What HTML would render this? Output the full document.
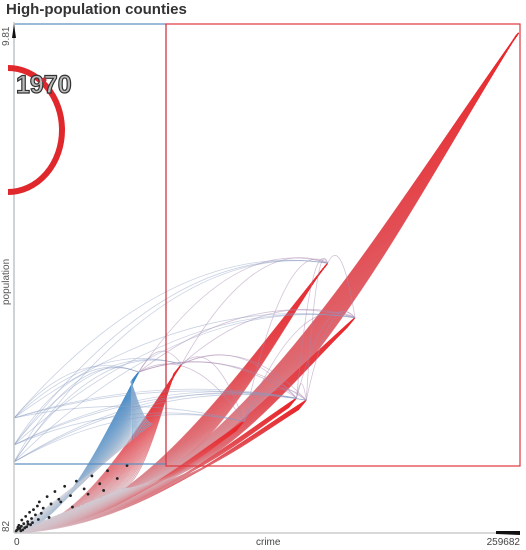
<!DOCTYPE html>
<html><head><meta charset="utf-8">
<style>
html,body{margin:0;padding:0;background:#fff;}
svg{display:block;font-family:"Liberation Sans",sans-serif;}
</style></head>
<body>
<svg id="chart" width="526" height="550" viewBox="0 0 526 550">
  <defs>
    <linearGradient id="gRed" x1="0" y1="1" x2="1" y2="0">
      <stop offset="0" stop-color="#d2ccd4"/>
      <stop offset="0.4" stop-color="#de6a72"/>
      <stop offset="1" stop-color="#e8262a"/>
    </linearGradient>
    <linearGradient id="gBlue" x1="0" y1="1" x2="1" y2="0">
      <stop offset="0" stop-color="#c4cad6"/>
      <stop offset="1" stop-color="#3a86c8"/>
    </linearGradient>
  </defs>
  <text x="6" y="14" font-size="15" font-weight="bold" fill="#333">High-population counties</text>
  <g id="marks"></g>
  <rect x="14" y="24" width="152" height="440" fill="none" stroke="#5b8cc0" stroke-width="1.2"/>
  <rect x="166" y="24" width="354" height="442" fill="none" stroke="#e0353c" stroke-width="1.2"/>
  <line x1="14" y1="22" x2="14" y2="533" stroke="#ccc" stroke-width="1.5"/>
  <line x1="14" y1="533" x2="520" y2="533" stroke="#ccc" stroke-width="1.5"/>
  <polygon points="12,38 16,38 14,24" fill="#111"/>
  <polygon points="496,531 520,531 520,535 496,534" fill="#111"/>
  <text transform="translate(9,46) rotate(-90)" font-size="10" fill="#555">9.81</text>
  <text transform="translate(9,305) rotate(-90)" font-size="10" fill="#555">population</text>
  <text transform="translate(9,532) rotate(-90)" font-size="10" fill="#555">82</text>
  <text x="14" y="545" font-size="10" fill="#444">0</text>
  <text x="256" y="545" font-size="10" fill="#444">crime</text>
  <text x="520" y="545" font-size="10" fill="#444" text-anchor="end">259682</text>
  <path d="M 8 68 A 54 62 0 1 1 8 192" fill="none" stroke="#e0282c" stroke-width="6"/>
  <text x="16" y="93" font-size="25" font-weight="bold" fill="#bbb" stroke="#333" stroke-width="1.2">1970</text>
  <circle cx="44" cy="80" r="2.5" fill="#c0303a"/>
</svg>
<script>
// Trajectory endpoints (data units)
const endCrime = [259000, 161000, 175000, 150000, 86000, 64000, 145000, 118000];
const endPop = [9640000, 5200000, 4150000, 2560000, 3250000, 3100000, 2600000, 2150000];
const bundleSize = [90, 40, 40, 45, 30, 90, 25, 20];
const bundleColor = ["red","red","red","red","red","blue","red","red"];
// scatter of counties near origin
const dotCrime = [1500,2500,3000,4000,5000,6000,7000,8000,9000,10000,11000,12000,13000,15000,17000,19000,21000,23000,26000,29000,32000,36000,40000,44000,48000,53000,58000,3500,6500,9500,14000,18000,24000,30000,38000,46000,2000,4500,8500,12500,1000,2200,3800,5500,7200];
const dotPop = [60000,150000,90000,250000,180000,320000,220000,400000,280000,450000,350000,520000,600000,480000,700000,560000,800000,650000,900000,720000,1000000,850000,1100000,950000,1200000,1050000,1300000,40000,120000,200000,380000,300000,600000,500000,750000,820000,110000,60000,160000,260000,30000,80000,130000,100000,170000];

const X = c => 14 + (c / 259682) * 506;
const Y = p => 533 - ((p - 82) / (9810000 - 82)) * 509;
const NS = "http://www.w3.org/2000/svg";
const g = document.getElementById("marks");

for (let b = 0; b < endCrime.length; b++) {
  const ex = X(endCrime[b]), ey = Y(endPop[b]);
  const n = bundleSize[b];
  const blue = bundleColor[b] === "blue";
  const spread = b === 0 ? 3 : 8;
  for (let i = 0; i < n; i++) {
    const t = i / n;
    const sx = blue ? 14 + t * 140 : 14 + t * 110;
    const sy = blue ? 533 - t * 110 : 533 - t * 45;
    const ex2 = ex - t * spread, ey2 = ey + t * spread * 1.2;
    const c1x = sx + (ex2 - sx) * 0.4, c1y = sy - (sy - ey2) * 0.03;
    const c2x = ex2 - (ex2 - sx) * 0.3, c2y = ey2 + (sy - ey2) * 0.42;
    const p = document.createElementNS(NS, "path");
    p.setAttribute("d", `M${sx},${sy} C${c1x},${c1y} ${c2x},${c2y} ${ex2},${ey2}`);
    p.setAttribute("fill", "none");
    p.setAttribute("stroke", blue ? "url(#gBlue)" : "url(#gRed)");
    p.setAttribute("stroke-width", "1.1");
    p.setAttribute("stroke-opacity", "0.75");
    
    
    g.appendChild(p);
  }
}
// connecting arcs between peaks
for (let a = 1; a < endCrime.length; a++) {
  for (let b = a + 1; b < endCrime.length; b++) {
    const x1 = X(endCrime[a]), y1 = Y(endPop[a]), x2 = X(endCrime[b]), y2 = Y(endPop[b]);
    const p = document.createElementNS(NS, "path");
    p.setAttribute("d", `M${x1},${y1} Q${(x1 + x2) / 2},${Math.min(y1, y2) - 30} ${x2},${y2}`);
    p.setAttribute("fill", "none");
    p.setAttribute("stroke", "#a888b0");
    p.setAttribute("stroke-width", "0.8");
    p.setAttribute("stroke-opacity", "0.5");
    
    
    g.appendChild(p);
  }
  const x1 = X(endCrime[a]), y1 = Y(endPop[a]);
  [418, 445, 462].forEach(ly => {
    const p = document.createElementNS(NS, "path");
    p.setAttribute("d", `M14,${ly} Q${(14 + x1) / 2},${Math.min(ly, y1) - 25} ${x1},${y1}`);
    p.setAttribute("fill", "none");
    p.setAttribute("stroke", "#8a9cc0");
    p.setAttribute("stroke-width", "0.8");
    p.setAttribute("stroke-opacity", "0.45");
    
    
    g.appendChild(p);
  });
}
for (let i = 0; i < dotCrime.length; i++) {
  const c = document.createElementNS(NS, "circle");
  c.setAttribute("cx", X(dotCrime[i]));
  c.setAttribute("cy", Y(dotPop[i]));
  c.setAttribute("r", "1.4");
  c.setAttribute("fill", "#222");
  
  
  g.appendChild(c);
}
</script>
</body></html>
